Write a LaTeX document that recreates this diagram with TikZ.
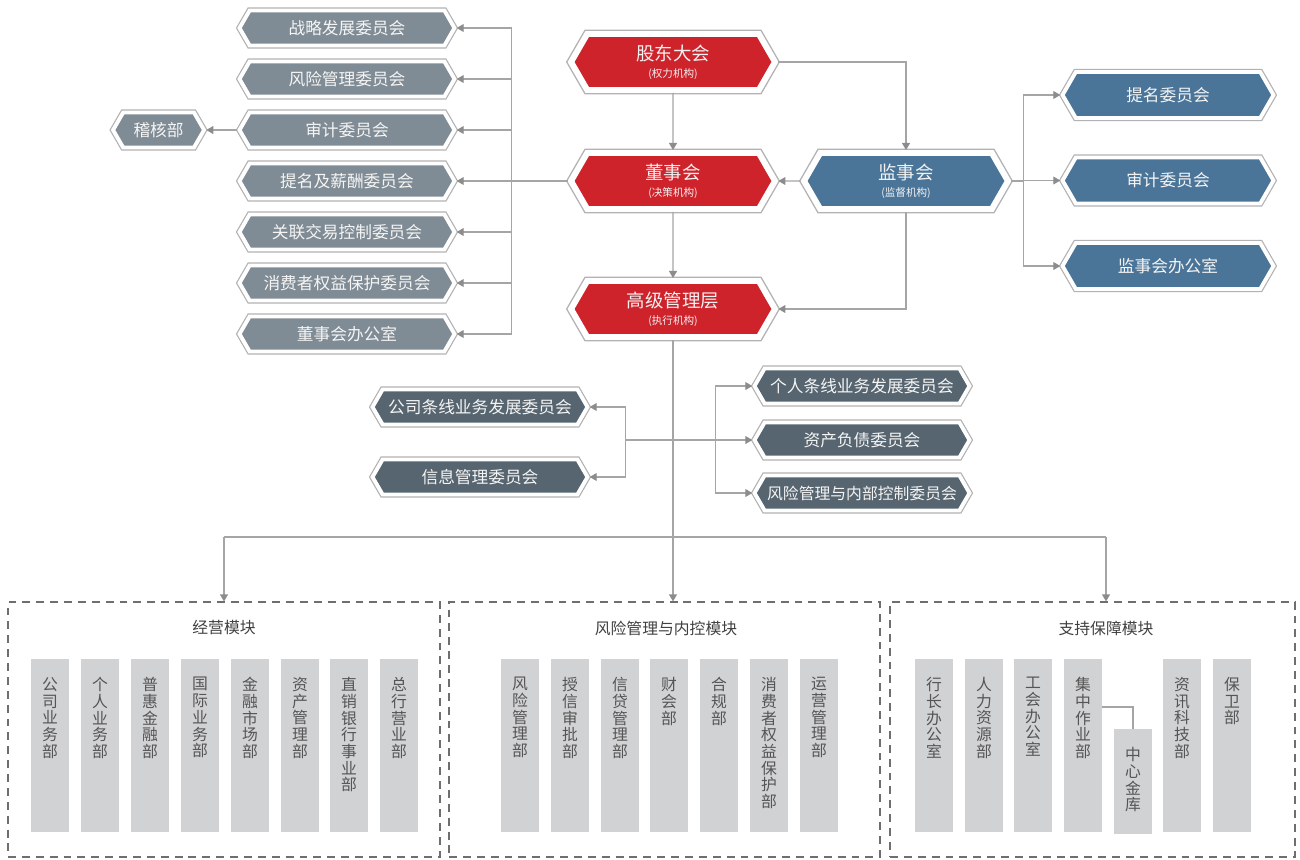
\documentclass[tikz,border=0pt]{standalone}
\usepackage{fontspec}
\setmainfont{Noto Sans CJK SC}
\usepackage{tikz}
\usetikzlibrary{shapes.symbols, arrows.meta, positioning, calc}
\definecolor{boardred}{RGB}{207, 35, 43}
\definecolor{supblue}{RGB}{74, 117, 152}
\definecolor{cmtgray}{RGB}{128, 140, 149}
\definecolor{mgmtslate}{RGB}{86, 101, 112}
\definecolor{deptgray}{RGB}{209, 210, 212}
\definecolor{linegray}{RGB}{165, 165, 165}
\definecolor{rimgray}{RGB}{178, 178, 180}
\definecolor{tipgray}{RGB}{140, 140, 140}
\definecolor{dashgray}{RGB}{110, 110, 110}
\definecolor{depttext}{RGB}{85, 85, 85}

\begin{document}
\begin{tikzpicture}[
    x=0.02cm, y=-0.02cm,
    hexbig/.style={signal, signal to=west and east, signal pointer angle=120,
                minimum width=4.08cm, minimum height=1.12cm, inner sep=0pt,
                align=center, text=white!95!black,
                font=\fontsize{10.5}{12.5}\selectfont,
                preaction={draw=rimgray, line width=5pt},
                draw=white, line width=3.4pt},
    hexcmt/.style={signal, signal to=west and east, signal pointer angle=120,
                minimum width=4.3cm, minimum height=0.7cm, inner sep=0pt,
                align=center, text=white!92!gray, fill=cmtgray,
                font=\fontsize{9.5}{11}\selectfont,
                preaction={draw=rimgray, line width=3.6pt},
                draw=white, line width=2.2pt},
    hexsup/.style={hexcmt, fill=supblue, minimum width=4.22cm, minimum height=0.92cm},
    hexmgmt/.style={hexcmt, fill=mgmtslate},
    line/.style={draw=linegray, line width=0.7pt},
    arr/.style={line, -{Triangle[width=4.5pt, length=4pt, color=tipgray]}},
    modbox/.style={rectangle, draw=dashgray, line width=0.7pt,
                dash pattern=on 4.5pt off 3.4pt, minimum height=5.1cm},
    modtitle/.style={font=\fontsize{9}{11}\selectfont, text=black!75},
    deptbox/.style={rectangle, fill=deptgray, anchor=north,
                minimum width=0.76cm, minimum height=3.46cm, inner sep=0pt},
    deptname/.style={align=center, inner sep=0pt, text=depttext,
                font=\fontsize{9}{9.5}\selectfont}
]
\useasboundingbox (0,0) rectangle (1300,859);

% Governance layer
\node[hexbig, fill=boardred] (gdh) at (673,62) {股东大会\\[-3pt]{\fontsize{6}{6}\selectfont (权力机构)}};
\node[hexbig, fill=boardred] (dsh) at (673,181) {董事会\\[-3pt]{\fontsize{6}{6}\selectfont (决策机构)}};
\node[hexbig, fill=supblue] (jsh) at (906,181) {监事会\\[-3pt]{\fontsize{6}{6}\selectfont (监督机构)}};
\node[hexbig, fill=boardred] (gjg) at (673,309) {高级管理层\\[-3pt]{\fontsize{6}{6}\selectfont (执行机构)}};

% Board committees
\foreach \t [count=\i] in {战略发展委员会, 风险管理委员会, 审计委员会, 提名及薪酬委员会,
        关联交易控制委员会, 消费者权益保护委员会, 董事会办公室}
    \node[hexcmt] (bc\i) at (347,{28+51*(\i-1)}) {\t};
\node[hexcmt, minimum width=1.82cm, left=0.62cm of bc3] (jhb) {稽核部};

% Supervisory committees
\foreach \t [count=\i] in {提名委员会, 审计委员会, 监事会办公室}
    \node[hexsup] (sc\i) at (1168,{95+85.5*(\i-1)}) {\t};

% Management committees
\node[hexmgmt] (mc1) at (480,407) {公司条线业务发展委员会};
\node[hexmgmt] (mc2) at (480,477) {信息管理委员会};
\node[hexmgmt] (mc3) at (862,386) {个人条线业务发展委员会};
\node[hexmgmt] (mc4) at (862,440) {资产负债委员会};
\node[hexmgmt, font=\fontsize{9}{11}\selectfont] (mc5) at (862,493) {风险管理与内部控制委员会};

% Modules
\node[modbox, minimum width=8.64cm] (mod1) at (224,729.5) {};
\node[modbox, minimum width=8.62cm] (mod2) at (664.5,729.5) {};
\node[modbox, minimum width=8.1cm] (mod3) at (1092.5,729.5) {};
\node[modtitle] (t1) at (224,628) {经营模块};
\node[modtitle] (t2) at (666,628) {风险管理与内控模块};
\node[modtitle] (t3) at (1106,628) {支持保障模块};

% Departments
\foreach \x/\t [count=\i] in {50/{公\\司\\业\\务\\部}, 100/{个\\人\\业\\务\\部},
        150/{普\\惠\\金\\融\\部}, 200/{国\\际\\业\\务\\部}, 250/{金\\融\\市\\场\\部},
        300/{资\\产\\管\\理\\部}, 349/{直\\销\\银\\行\\事\\业\\部}, 399/{总\\行\\营\\业\\部}}
{
    \node[deptbox] (op\i) at (\x,659) {};
    \node[deptname, below=0.36cm of op\i.north] (opn\i) {\t};
}
\foreach \x/\t [count=\i] in {520/{风\\险\\管\\理\\部}, 570/{授\\信\\审\\批\\部},
        620/{信\\贷\\管\\理\\部}, 669/{财\\会\\部}, 719/{合\\规\\部},
        769/{消\\费\\者\\权\\益\\保\\护\\部}, 819/{运\\营\\管\\理\\部}}
{
    \node[deptbox] (rk\i) at (\x,659) {};
    \node[deptname, below=0.36cm of rk\i.north] (rkn\i) {\t};
}
\foreach \x/\t [count=\i] in {934/{行\\长\\办\\公\\室}, 984/{人\\力\\资\\源\\部},
        1033/{工\\会\\办\\公\\室}, 1083/{集\\中\\作\\业\\部},
        1182/{资\\讯\\科\\技\\部}, 1232/{保\\卫\\部}}
{
    \node[deptbox] (sp\i) at (\x,659) {};
    \node[deptname, below=0.36cm of sp\i.north] (spn\i) {\t};
}
\node[deptbox, minimum height=2.1cm] (vault) at (1133,729) {};
\node[deptname, below=0.36cm of vault.north] (vaultn) {中\\心\\金\\库};

% Connections
\draw[arr] (gdh) -- (dsh);
\draw[arr] (gdh.east) -| (jsh.north);
\draw[arr] (jsh) -- (dsh);
\draw[arr] (dsh) -- (gjg);
\draw[arr] (jsh.south) |- (gjg.east);

\draw[line] (dsh.west) -- ++(-56,0) coordinate (lbus);
\draw[line] (lbus |- bc1.east) -- (lbus |- bc7.east);
\foreach \i in {1,...,7}
    \draw[arr] (lbus |- bc\i.east) -- (bc\i.east);
\draw[arr] (bc3.west) -- (jhb.east);

\draw[line] (jsh.east) -- ++(12,0) coordinate (rbus);
\draw[line] (rbus |- sc1.west) -- (rbus |- sc3.west);
\foreach \i in {1,2,3}
    \draw[arr] (rbus |- sc\i.west) -- (sc\i.west);

\draw[line] ($(mc1.east)+(36,0)$) coordinate (lbr) -- (lbr |- mc2.east);
\foreach \i in {1,2}
    \draw[arr] (lbr |- mc\i.east) -- (mc\i.east);
\draw[line] ($(mc3.west)+(-37,0)$) coordinate (rbr) -- (rbr |- mc5.west);
\foreach \i in {3,5}
    \draw[arr] (rbr |- mc\i.west) -- (mc\i.west);
\draw[arr] (lbr |- mc4.west) -- (mc4.west);

\draw[arr] (gjg.south) -- (gjg.south |- mod2.north);
\path (gjg.south) ++(0,197) coordinate (bbus);
\draw[line] (bbus -| t1) -- (bbus -| t3);
\draw[arr] (bbus -| t1) -- (t1 |- mod1.north);
\draw[arr] (bbus -| t3) -- (t3 |- mod3.north);

\draw[line] ($(sp4.north east)+(0,48)$) -| (vault.north);

\end{tikzpicture}
\end{document}
